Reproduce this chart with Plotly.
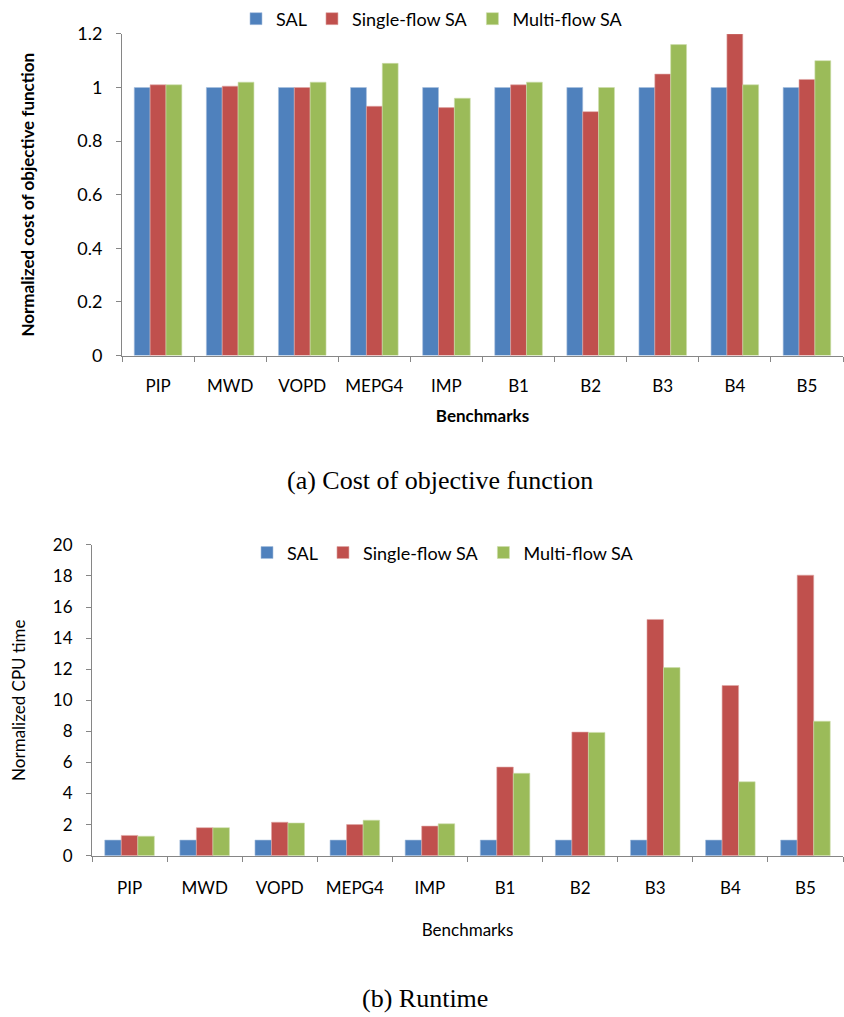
import plotly.graph_objects as go

benchmarks = ["PIP", "MWD", "VOPD", "MEPG4", "IMP", "B1", "B2", "B3", "B4", "B5"]
series_names = ["SAL", "Single-flow SA", "Multi-flow SA"]

# (a) normalized cost of the objective function
cost_sal = [1, 1, 1, 1, 1, 1, 1, 1, 1, 1]
cost_single = [1.01, 1.005, 1.0, 0.93, 0.925, 1.01, 0.91, 1.05, 1.2, 1.03]
cost_multi = [1.01, 1.02, 1.02, 1.09, 0.96, 1.02, 1.0, 1.16, 1.01, 1.1]

# (b) normalized CPU time
cpu_sal = [1, 1, 1, 1, 1, 1, 1, 1, 1, 1]
cpu_single = [1.3, 1.8, 2.15, 2.0, 1.9, 5.7, 7.95, 15.2, 10.95, 18.05]
cpu_multi = [1.25, 1.8, 2.1, 2.28, 2.05, 5.3, 7.93, 12.1, 4.75, 8.65]

colors = ["#4F81BD", "#C0504D", "#9BBB59"]
edge = ["#A7C0DE", "#DFA7A6", "#CDDDAC"]

W, H = 844, 1017
FONT = "Lato, Roboto, sans-serif"
SERIF = "Liberation Serif, DejaVu Serif, serif"
AXIS_GRAY = "#868686"

fig = go.Figure()

for name, vals, c, e in zip(series_names, [cost_sal, cost_single, cost_multi], colors, edge):
    fig.add_trace(go.Bar(x=benchmarks, y=vals, name=name, marker=dict(color=c, line=dict(color=e, width=0.6)),
                         xaxis="x", yaxis="y", legend="legend"))
for name, vals, c, e in zip(series_names, [cpu_sal, cpu_single, cpu_multi], colors, edge):
    fig.add_trace(go.Bar(x=benchmarks, y=vals, name=name, marker=dict(color=c, line=dict(color=e, width=0.6)),
                         xaxis="x2", yaxis="y2", legend="legend2"))


def px_x(p):
    return p / W


def px_y(p):
    return 1 - p / H


axis_common = dict(showline=True, linecolor=AXIS_GRAY, linewidth=1, showgrid=False, zeroline=False,
                   automargin=False, ticks="outside", tickcolor=AXIS_GRAY, ticklen=5)

fig.update_layout(
    template="none",
    width=W, height=H,
    margin=dict(l=0, r=0, t=0, b=0),
    paper_bgcolor="white", plot_bgcolor="white",
    barmode="group", bargap=0.34, bargroupgap=0,
    showlegend=True,
    xaxis=dict(axis_common, domain=[px_x(122), px_x(843)], anchor="y", tickson="boundaries", tickangle=0,
               ticklabelstandoff=15,
               tickfont=dict(family=FONT, size=17, color="#000"),
               title=dict(text="<b>Benchmarks</b>", font=dict(family=FONT, size=17, color="#000"), standoff=15)),
    yaxis=dict(axis_common, domain=[px_y(353), px_y(30)], anchor="x", range=[0, 1.2], dtick=0.2,
               ticklabelstandoff=10,
               tickfont=dict(family=FONT, size=18, color="#000"),
               title=dict(text="<b>Normalized cost of objective function</b>",
                          font=dict(family=FONT, size=17, color="#000"), standoff=38)),
    xaxis2=dict(axis_common, domain=[px_x(92), px_x(843)], anchor="y2", tickson="boundaries", tickangle=0,
                ticklabelstandoff=17,
                tickfont=dict(family=FONT, size=17, color="#000"),
                title=dict(text="Benchmarks", font=dict(family=FONT, size=17, color="#000"), standoff=27)),
    yaxis2=dict(axis_common, domain=[px_y(855), px_y(543)], anchor="x2", range=[0, 20], dtick=2,
                ticklabelstandoff=10,
                tickfont=dict(family=FONT, size=17, color="#000"),
                title=dict(text="Normalized CPU time", font=dict(family=FONT, size=17, color="#000"), standoff=22)),
    legend=dict(orientation="h", x=px_x(432), xanchor="center", y=px_y(15), yanchor="middle",
                font=dict(family=FONT, size=18, color="#000"), itemwidth=30, bgcolor="rgba(0,0,0,0)"),
    legend2=dict(orientation="h", x=px_x(443), xanchor="center", y=px_y(551), yanchor="middle",
                 font=dict(family=FONT, size=18, color="#000"), itemwidth=30, bgcolor="rgba(0,0,0,0)"),
    annotations=[
        dict(text="(a) Cost of objective function", xref="paper", yref="paper", x=px_x(440), y=px_y(478),
             xanchor="center", yanchor="middle", showarrow=False, font=dict(family=SERIF, size=26, color="#000")),
        dict(text="(b) Runtime", xref="paper", yref="paper", x=px_x(425), y=px_y(998),
             xanchor="center", yanchor="middle", showarrow=False, font=dict(family=SERIF, size=26, color="#000")),
    ],
)

fig.write_html("out.html")
